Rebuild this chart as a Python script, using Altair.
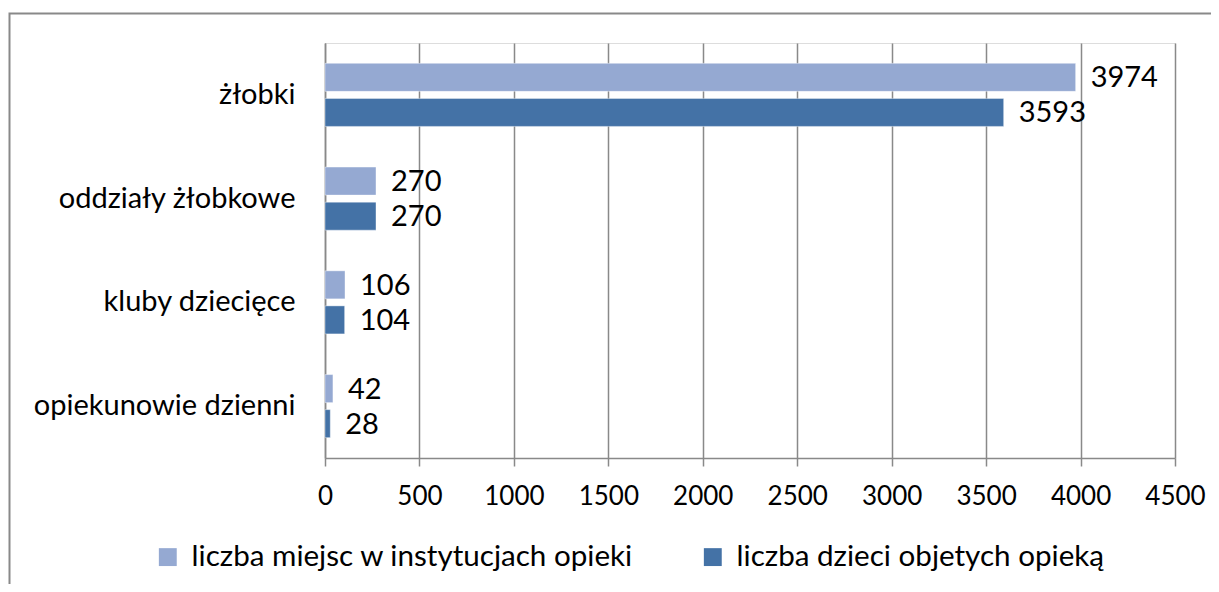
import altair as alt
import pandas as pd

categories = ["żłobki", "oddziały żłobkowe", "kluby dziecięce", "opiekunowie dzienni"]
series_names = ["liczba miejsc w instytucjach opieki", "liczba dzieci objetych opieką"]
miejsca = [3974, 270, 106, 42]
dzieci = [3593, 270, 104, 28]
x_ticks = [0, 500, 1000, 1500, 2000, 2500, 3000, 3500, 4000, 4500]
colors = ["#95A9D2", "#4472A6"]

rows = []
for c, m, d in zip(categories, miejsca, dzieci):
    rows.append({"kategoria": c, "seria": series_names[0], "wartosc": m})
    rows.append({"kategoria": c, "seria": series_names[1], "wartosc": d})
df = pd.DataFrame(rows)

FONT = "Lato"
GRAY = "#898989"

y_enc = alt.Y("kategoria:N", sort=categories, title=None,
              scale=alt.Scale(paddingInner=0, paddingOuter=0),
              axis=alt.Axis(ticks=False, grid=False, domainColor=GRAY, domainWidth=1.5,
                            labelFontSize=29, labelPadding=30, labelColor="#000000",
                            labelFont=FONT, labelLimit=400))
yoff_enc = alt.YOffset("seria:N", sort=series_names,
                       scale=alt.Scale(paddingInner=0.2, paddingOuter=0.58))
x_enc = alt.X("wartosc:Q", title=None,
              scale=alt.Scale(domain=[0, 4500], nice=False, zero=True),
              axis=alt.Axis(values=x_ticks, format="d", grid=True, gridColor=GRAY, gridWidth=1.5,
                            domainColor=GRAY, domainWidth=1.5, tickColor=GRAY, tickWidth=1.5,
                            tickSize=8, labelFontSize=26, labelPadding=17,
                            labelColor="#000000", labelFont=FONT, labelFlush=False))

base = alt.Chart(df)

bars = base.mark_bar(stroke="#ffffff", strokeOpacity=0.4, strokeWidth=1).encode(
    y=y_enc,
    yOffset=yoff_enc,
    x=x_enc,
    color=alt.Color("seria:N", sort=series_names,
                    scale=alt.Scale(domain=series_names, range=colors),
                    legend=alt.Legend(title=None, orient="none", direction="horizontal",
                                      legendX=-172, legendY=499,
                                      symbolType="square", symbolSize=320,
                                      symbolStrokeWidth=0, symbolOpacity=1,
                                      labelFontSize=29.6, labelFont=FONT, labelColor="#000000",
                                      labelOffset=9, columnPadding=64, labelLimit=700)),
)

labels = base.mark_text(align="left", baseline="middle", dx=15, dy=1,
                        fontSize=29, font=FONT, color="#000000").encode(
    y=alt.Y("kategoria:N", sort=categories),
    yOffset=alt.YOffset("seria:N", sort=series_names),
    x=alt.X("wartosc:Q"),
    text=alt.Text("wartosc:Q"),
)

frame = alt.Chart(pd.DataFrame({"f": [0]})).mark_rect(
    fill="transparent", stroke=GRAY, strokeWidth=2).encode(
    x=alt.value(-315.5), x2=alt.value(1100),
    y=alt.value(-29.5), y2=alt.value(800),
)

chart = alt.layer(frame, bars, labels).properties(
    width=850, height=415,
    padding={"left": 317, "top": 35, "right": 36, "bottom": 126},
    autosize=alt.AutoSizeParams(type="none"),
).configure_view(stroke=None).configure(font=FONT, background="#ffffff")

chart.save("out.html", embed_options={"renderer": "svg", "actions": False})
